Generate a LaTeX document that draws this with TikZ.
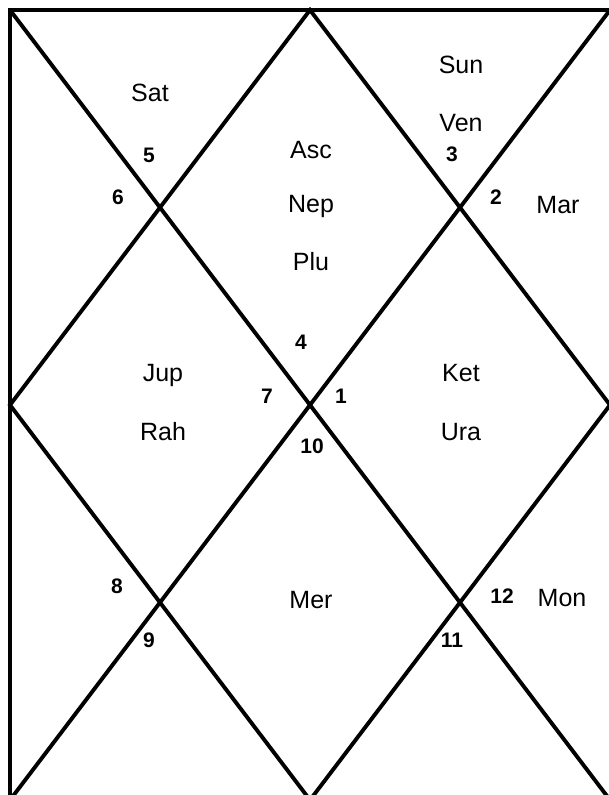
\documentclass[tikz,border=0pt]{standalone}
\usepackage{fontspec}
\setmainfont{Liberation Sans}
\begin{document}
\begin{tikzpicture}[x=1pt,y=-1pt,
  chartline/.style={line width=3.9pt, line join=miter, black},
  planet/.style={inner sep=0pt, font=\fontsize{25}{30}\selectfont},
  housenum/.style={inner sep=0pt, font=\fontsize{21}{25}\selectfont\bfseries}]
\useasboundingbox (0,0) rectangle (608,795);
\fill[white] (-10,-10) rectangle (620,805);
\begin{scope}
\clip (-1,-1) rectangle (609,796);
\coordinate (tl) at (10,10);
\coordinate (tr) at (610,10);
\coordinate (bl) at (10,800);
\coordinate (br) at (610,800);
\coordinate (tm) at (310,10);
\coordinate (bm) at (310,800);
\coordinate (lm) at (10,405);
\coordinate (rm) at (610,405);
\draw[chartline] (bl) -- (tl) -- (tr);
\draw[chartline] (tl) -- (br);
\draw[chartline] (tr) -- (bl);
\draw[chartline] (tm) -- (rm) -- (bm) -- (lm) -- cycle;
\end{scope}
% planets
\node[planet] (sat) at (150,93) {Sat};
\node[planet] (asc) at (311,150) {Asc};
\node[planet] (nep) at (311,206) {Nep};
\node[planet] (plu) at (311,262) {Plu};
\node[planet] (sun) at (461,65) {Sun};
\node[planet] (ven) at (461,123) {Ven};
\node[planet] (mar) at (558,205) {Mar};
\node[planet] (jup) at (163,375) {Jup};
\node[planet] (rah) at (163,432) {Rah};
\node[planet] (ket) at (461,373) {Ket};
\node[planet] (ura) at (461,432) {Ura};
\node[planet] (mer) at (311,600) {Mer};
\node[planet] (mon) at (562,598) {Mon};
% house numbers
\node[housenum] (h1) at (341,396) {1};
\node[housenum] (h2) at (496,197) {2};
\node[housenum] (h3) at (452,154) {3};
\node[housenum] (h4) at (301,342) {4};
\node[housenum] (h5) at (149,155) {5};
\node[housenum] (h6) at (118,197) {6};
\node[housenum] (h7) at (267,396) {7};
\node[housenum] (h8) at (117,586) {8};
\node[housenum] (h9) at (149,640) {9};
\node[housenum] (h10) at (312,446) {10};
\node[housenum] (h11) at (452,640) {11};
\node[housenum] (h12) at (502,596) {12};
\end{tikzpicture}
\end{document}
